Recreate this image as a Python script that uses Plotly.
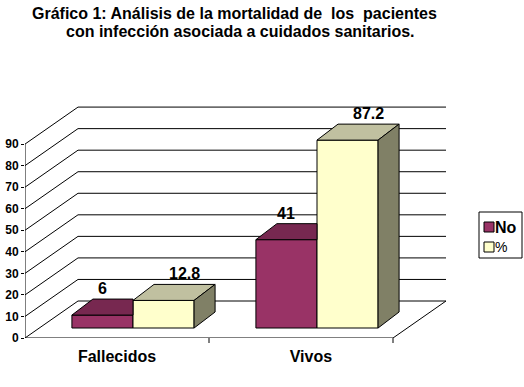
import plotly.graph_objects as go

# ---- data ----
categories = ["Fallecidos", "Vivos"]
series_names = ["No", "%"]
values_no = [6, 41]
values_pct = [12.8, 87.2]
label_no = ["6", "41"]
label_pct = ["12.8", "87.2"]
y_ticks = [0, 10, 20, 30, 40, 50, 60, 70, 80, 90]

# ---- styling / geometry ----
W, H = 524, 387
ML, MR, MT, MB = 25, 78, 101, 49
X0, X1 = -0.5, 1.788
Y0, Y1 = 0, 110
PXX = (W - ML - MR) / (X1 - X0)
PXY = (H - MT - MB) / (Y1 - Y0)

WALL_DX, WALL_DY = 53 / PXX, 37 / PXY      # depth of the 3D walls
F_DX, F_DY = 16 / PXX, 10 / PXY            # bar front plane offset
B_DX, B_DY = 21 / PXX, 16 / PXY            # bar depth
BAR_W = 0.332
offsets = [-0.166, 0.166]
front_cols = ["#993366", "#FFFFCC"]
top_cols = ["#772850", "#C0C0A0"]
side_cols = ["#5C1F3E", "#808066"]
FONT = "Liberation Sans, Arial, sans-serif"

series_vals = [values_no, values_pct]
series_labels = [label_no, label_pct]
cat_pos = list(range(len(categories)))

fig = go.Figure()

# front faces (real bars)
for s, (name, vals) in enumerate(zip(series_names, series_vals)):
    fig.add_trace(go.Bar(
        x=[c + offsets[s] + F_DX for c in cat_pos], y=vals, base=F_DY,
        width=BAR_W, name=name, marker=dict(color=front_cols[s], line=dict(color="black", width=1)),
        showlegend=False, hoverinfo="skip"))

# top and side faces
for c in cat_pos:
    for s, vals in enumerate(series_vals):
        xl = c + offsets[s] - BAR_W / 2 + F_DX
        xr = xl + BAR_W
        vt = vals[c] + F_DY
        if s + 1 < len(series_vals):
            clip = c + offsets[s + 1] - BAR_W / 2 + F_DX
            xs = [xl, min(xr, clip), min(xr + B_DX, clip), xl + B_DX, xl]
            ys = [vt, vt, vt + B_DY, vt + B_DY, vt]
        else:
            xs = [xl, xr, xr + B_DX, xl + B_DX, xl]
            ys = [vt, vt, vt + B_DY, vt + B_DY, vt]
        fig.add_trace(go.Scatter(x=xs, y=ys, fill="toself", fillcolor=top_cols[s], mode="lines",
                                 line=dict(color="black", width=1), showlegend=False, hoverinfo="skip"))
        if s == len(series_vals) - 1:
            xs = [xr, xr + B_DX, xr + B_DX, xr, xr]
            ys = [F_DY, F_DY + B_DY, vt + B_DY, vt, F_DY]
            fig.add_trace(go.Scatter(x=xs, y=ys, fill="toself", fillcolor=side_cols[s], mode="lines",
                                     line=dict(color="black", width=1), showlegend=False, hoverinfo="skip"))

# value labels
label_k = [0.0, 1.0]
for c in cat_pos:
    for s, vals in enumerate(series_vals):
        xc = c + offsets[s] + F_DX + B_DX * label_k[s]
        fig.add_annotation(x=xc, y=vals[c] + F_DY + B_DY, text=series_labels[s][c], showarrow=False,
                           yanchor="bottom", yshift=0,
                           font=dict(family=FONT, size=16, color="black", weight="bold"))

# walls / gridlines
shapes = []
ln = dict(color="black", width=1)
for v in y_ticks:
    shapes.append(dict(type="line", x0=X0, y0=v, x1=X0 + WALL_DX, y1=v + WALL_DY, line=ln, layer="below"))
    shapes.append(dict(type="line", x0=X0 + WALL_DX, y0=v + WALL_DY, x1=1.5 + WALL_DX, y1=v + WALL_DY,
                       line=ln, layer="below"))
shapes.append(dict(type="line", x0=X0, y0=0, x1=X0, y1=y_ticks[-1], line=ln, layer="below"))
shapes.append(dict(type="line", x0=X0, y0=0, x1=1.5, y1=0, line=ln, layer="below"))
shapes.append(dict(type="line", x0=1.5, y0=0, x1=1.5 + WALL_DX, y1=WALL_DY, line=ln, layer="below"))
# category boundary ticks (outside the plot area -> paper coords)
for xb in [0.5, 1.5]:
    px = (xb - X0) / (X1 - X0)
    shapes.append(dict(type="line", xref="paper", yref="paper", x0=px, x1=px, y0=0, y1=-5 / (H - MT - MB),
                       line=ln))

# legend drawn as a box
def pxp(x, y):
    return (x - ML) / (W - ML - MR), (H - MB - y) / (H - MT - MB)

bx0, by0 = pxp(479, 212)
bx1, by1 = pxp(522, 258)
shapes.append(dict(type="rect", xref="paper", yref="paper", x0=bx0, y0=by0, x1=bx1, y1=by1,
                   line=ln, fillcolor="white"))
leg_y = [227, 247]
leg_font = [dict(size=16, weight="bold"), dict(size=14, weight="normal")]
for s, name in enumerate(series_names):
    sx0, sy0 = pxp(484, leg_y[s] - 5)
    sx1, sy1 = pxp(494, leg_y[s] + 5)
    shapes.append(dict(type="rect", xref="paper", yref="paper", x0=sx0, y0=sy0, x1=sx1, y1=sy1,
                       line=ln, fillcolor=front_cols[s]))
    tx, ty = pxp(495, leg_y[s])
    fig.add_annotation(xref="paper", yref="paper", x=tx, y=ty, text=name, showarrow=False,
                       xanchor="left", yanchor="middle", xshift=-2,
                       font=dict(family=FONT, color="black", **leg_font[s]))

# title as annotation (two lines)
title_lines = ["Gráfico 1: Análisis de la mortalidad de  los  pacientes",
               "con infección asociada a cuidados sanitarios."]
title_y = [13, 31]
title_x = [234, 240]
for txt, ty, tx in zip(title_lines, title_y, title_x):
    px, py = pxp(tx, ty)
    fig.add_annotation(xref="paper", yref="paper", x=px, y=py, text=txt, showarrow=False,
                       xanchor="center", yanchor="middle",
                       font=dict(family=FONT, size=16, color="black", weight="bold"))

fig.update_layout(
    width=W, height=H, margin=dict(l=ML, r=MR, t=MT, b=MB, autoexpand=False),
    paper_bgcolor="white", plot_bgcolor="white",
    barmode="overlay", showlegend=False, shapes=shapes,
    xaxis=dict(range=[X0, X1], showgrid=False, zeroline=False, showline=False, automargin=False,
               tickvals=[0, 1.054], ticktext=categories, ticks="", ticklabelstandoff=7,
               tickfont=dict(family=FONT, size=16, color="black", weight="bold")),
    yaxis=dict(range=[Y0, Y1], showgrid=False, zeroline=False, showline=False, automargin=False,
               tickvals=y_ticks, ticks="outside", ticklen=3, tickcolor="black",
               tickfont=dict(family=FONT, size=12, color="black", weight="bold")),
)

fig.write_html("out.html", config={"displayModeBar": False},
               post_script="document.body.style.margin='0';")
